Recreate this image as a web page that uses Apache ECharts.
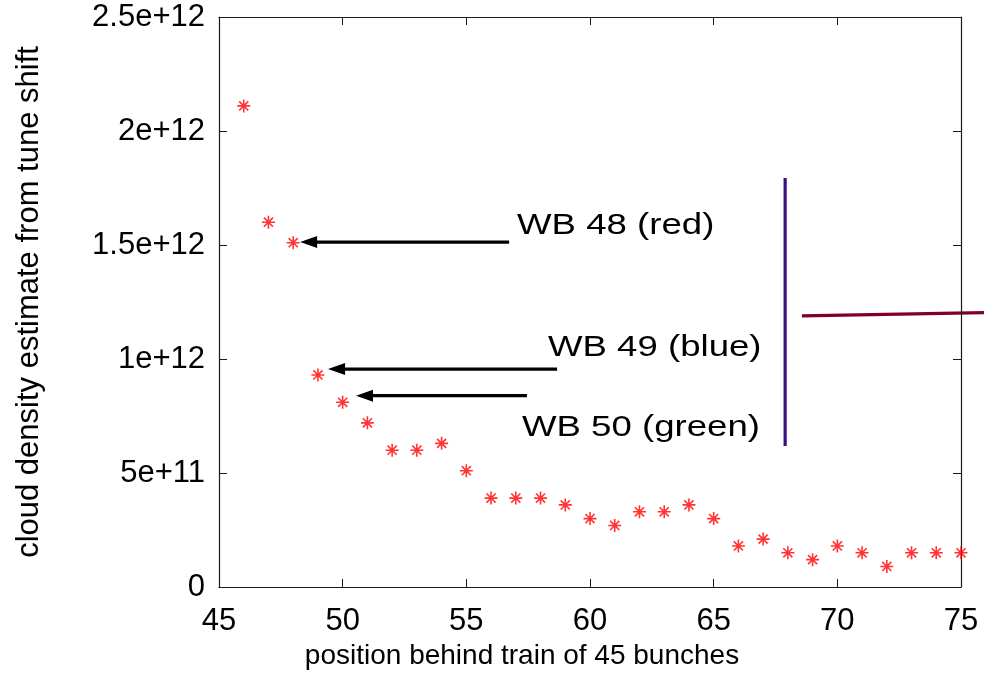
<!DOCTYPE html>
<html>
<head>
<meta charset="utf-8">
<script src="https://cdn.jsdelivr.net/npm/echarts@6/dist/echarts.min.js"></script>
<style>
  html, body { margin: 0; padding: 0; background: #ffffff; }
  #chart { width: 984px; height: 676px; }
</style>
</head>
<body>
<div id="chart"></div>
<script>
// ---- data ----
const positions = [46, 47, 48, 49, 50, 51, 52, 53, 54, 55, 56, 57, 58, 59, 60,
                   61, 62, 63, 64, 65, 66, 67, 68, 69, 70, 71, 72, 73, 74, 75];
const density = [2.11e12, 1.60e12, 1.51e12, 0.93e12, 0.81e12, 0.72e12, 0.60e12, 0.60e12, 0.63e12, 0.51e12,
                 0.39e12, 0.39e12, 0.39e12, 0.36e12, 0.30e12, 0.27e12, 0.33e12, 0.33e12, 0.36e12, 0.30e12,
                 0.18e12, 0.21e12, 0.15e12, 0.12e12, 0.18e12, 0.15e12, 0.09e12, 0.15e12, 0.15e12, 0.15e12];
const yTickValues = [0, 5e11, 1e12, 1.5e12, 2e12, 2.5e12];
const yTickLabels = ['0', '5e+11', '1e+12', '1.5e+12', '2e+12', '2.5e+12'];
const xTickLabels = ['45', '50', '55', '60', '65', '70', '75'];
const xName = 'position behind train of 45 bunches';
const yName = 'cloud density estimate from tune shift';

// annotations (data coordinates)
const annTexts = ['WB 48 (red)', 'WB 49 (blue)', 'WB 50 (green)'];
const annTextPos = [[57.05, 1.583e12], [58.30, 1.048e12], [57.25, 0.697e12]];
const arrowTails = [[56.73, 1.513e12], [58.67, 0.956e12], [57.45, 0.839e12]];
const arrowTips  = [[48.28, 1.513e12], [49.41, 0.956e12], [50.54, 0.839e12]];
const purpleLine = [[67.89, 1.794e12], [67.89, 0.618e12]];
const redLine    = [[68.57, 1.189e12], [75.93, 1.203e12]];

const FONT = 'Liberation Sans';
const chart = echarts.init(document.getElementById('chart'), null, { renderer: 'canvas' });

const asterisk = 'path://M5 0L5 10M0 5L10 5M1.5 1.5L8.5 8.5M8.5 1.5L1.5 8.5';

const axisCommon = {
  axisLine: { show: true, onZero: false, lineStyle: { color: '#1a1a1a', width: 1.2 } },
  axisTick: { show: true, inside: true, length: 8, lineStyle: { color: '#1a1a1a', width: 1 } },
  splitLine: { show: false }
};

chart.setOption({
  animation: false,
  backgroundColor: '#ffffff',
  grid: { left: 219, right: 23, top: 17, bottom: 89, containLabel: false },
  xAxis: [
    Object.assign({
      type: 'value', min: 45, max: 75, interval: 5, position: 'bottom',
      name: xName, nameLocation: 'middle', nameGap: 54,
      nameTextStyle: { fontFamily: FONT, fontSize: 28, color: '#000', padding: [0, 136, 0, 0] },
      axisLabel: {
        fontFamily: FONT, fontSize: 31, color: '#000', margin: 19,
        formatter: function (v) { return xTickLabels[Math.round((v - 45) / 5)]; }
      }
    }, axisCommon),
    Object.assign({
      type: 'value', min: 45, max: 75, interval: 5, position: 'top',
      axisLabel: { show: false }
    }, axisCommon)
  ],
  yAxis: [
    Object.assign({
      type: 'value', min: 0, max: 2.5e12, interval: 5e11, position: 'left',
      name: yName, nameLocation: 'middle', nameGap: 174, nameRotate: 90,
      nameTextStyle: { fontFamily: FONT, fontSize: 31, color: '#000' },
      axisLabel: {
        fontFamily: FONT, fontSize: 31, color: '#000', margin: 14,
        formatter: function (v) {
          const i = yTickValues.findIndex(t => Math.abs(t - v) < 1);
          return i >= 0 ? yTickLabels[i] : '';
        }
      }
    }, axisCommon),
    Object.assign({
      type: 'value', min: 0, max: 2.5e12, interval: 5e11, position: 'right',
      axisLabel: { show: false }
    }, axisCommon)
  ],
  series: [{
    type: 'scatter',
    xAxisIndex: 0, yAxisIndex: 0,
    data: positions.map((p, i) => [p, density[i]]),
    symbol: asterisk,
    symbolSize: 13,
    itemStyle: { color: 'rgba(0,0,0,0)', borderColor: '#ff0000', borderWidth: 1.6 },
    clip: false
  }]
});

// annotation graphics placed through the chart's coordinate system
function px(pt) { return chart.convertToPixel({ xAxisIndex: 0, yAxisIndex: 0 }, pt); }
const graphics = [];
for (let i = 0; i < arrowTails.length; i++) {
  const a = px(arrowTails[i]), b = px(arrowTips[i]);
  const headLen = 17, headHalf = 6;
  graphics.push({
    type: 'line', silent: true,
    shape: { x1: a[0], y1: a[1], x2: b[0] + headLen - 2, y2: b[1] },
    style: { stroke: '#000', lineWidth: 3.2 }
  });
  graphics.push({
    type: 'polygon', silent: true,
    shape: { points: [[b[0], b[1]], [b[0] + headLen, b[1] - headHalf], [b[0] + headLen, b[1] + headHalf]] },
    style: { fill: '#000' }
  });
}
for (let i = 0; i < annTexts.length; i++) {
  const p = px(annTextPos[i]);
  graphics.push({
    type: 'text', silent: true,
    x: p[0], y: p[1], scaleX: 1.22, scaleY: 1.0,
    style: { text: annTexts[i], fontFamily: FONT, fontSize: 30, fill: '#000',
             textAlign: 'left', textVerticalAlign: 'middle', verticalAlign: 'middle' }
  });
}
{
  const a = px(purpleLine[0]), b = px(purpleLine[1]);
  graphics.push({ type: 'line', silent: true, shape: { x1: a[0], y1: a[1], x2: b[0], y2: b[1] },
                  style: { stroke: '#3c0f80', lineWidth: 3.2 } });
}
{
  const a = px(redLine[0]), b = px(redLine[1]);
  graphics.push({ type: 'line', silent: true, shape: { x1: a[0], y1: a[1], x2: b[0], y2: b[1] },
                  style: { stroke: '#80002a', lineWidth: 3.2 } });
}
chart.setOption({ graphic: graphics });
</script>
</body>
</html>
